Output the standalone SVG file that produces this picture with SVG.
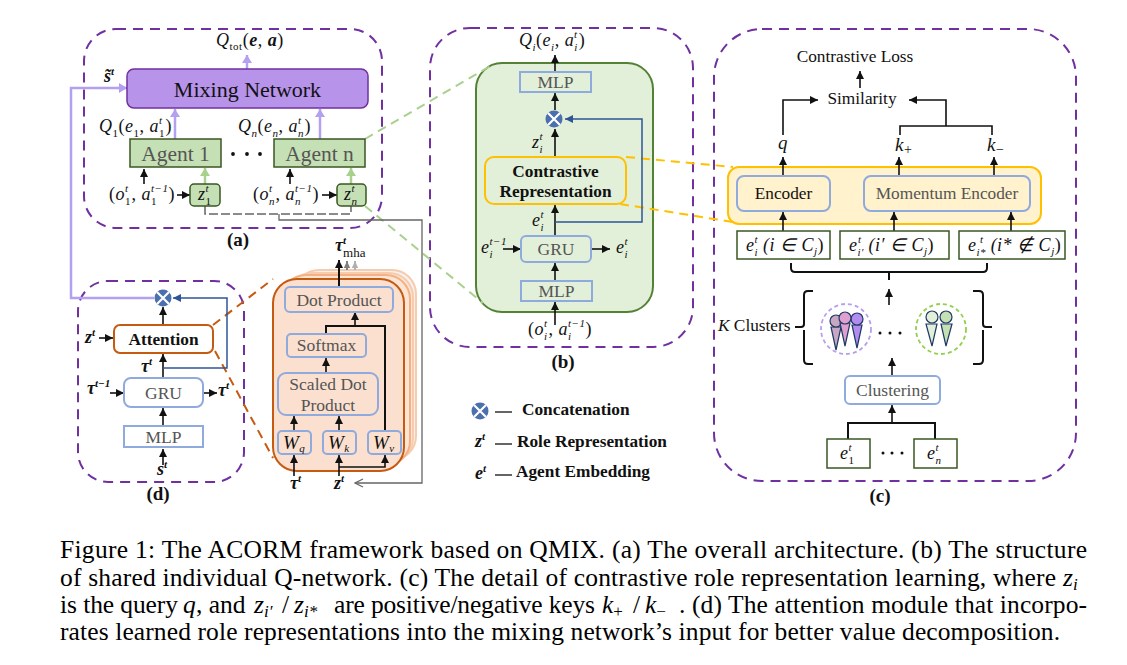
<svg xmlns="http://www.w3.org/2000/svg" xmlns:xlink="http://www.w3.org/1999/xlink" width="1127" height="665" viewBox="0 0 1127 665">
<style>
text{font-family:"Liberation Serif","Times New Roman",serif;fill:#111}
.panel{fill:none;stroke:#7030a0;stroke-width:2;stroke-dasharray:10 7}
.m{font-style:italic;font-size:18px;letter-spacing:.5px}
.mb{font-style:italic;font-weight:bold;font-size:18px}
.s{font-size:11px}
.n{font-style:normal}
.c{text-anchor:middle}
.lab{font-size:19px;font-weight:bold;text-anchor:middle}
.cap{font-size:25.500px;fill:#000}
.capi{font-size:25.500px;fill:#000;font-style:italic}
.capu{font-size:17px}
.box{fill:none;stroke:#8faadc;stroke-width:2}
.boxf{fill:#fff;stroke:#8faadc;stroke-width:2}
.t{font-size:17.500px;fill:#555;text-anchor:middle}
.t2{font-size:17.300px}
.tb{font-size:17.300px;font-weight:bold}
.g{fill:#c5e0b4;stroke:#385723;stroke-width:1.5}
.eb{fill:#fff;stroke:#385723;stroke-width:1.5}
.k{fill:none;stroke:#111;stroke-width:1.6}
.kb{fill:none;stroke:#111;stroke-width:2}
.a{fill:none;stroke:#111;stroke-width:1.6;marker-end:url(#ak)}
.ab{fill:none;stroke:#2f5597;stroke-width:1.5;marker-end:url(#abl)}
.ap{fill:none;stroke:#b4a0f0;stroke-width:2.5;marker-end:url(#apu)}
.ag{fill:none;stroke:#a9d18e;stroke-width:2.5;marker-end:url(#agr)}
.dg{fill:none;stroke:#a9d18e;stroke-width:2;stroke-dasharray:9 6}
.dy{fill:none;stroke:#ffc000;stroke-width:2;stroke-dasharray:9 6}
.do{fill:none;stroke:#c55a11;stroke-width:2;stroke-dasharray:9 6}
.head{stroke:#203864;stroke-width:1.2}
.dot{fill:#111}
</style>
<defs>
<marker id="ak" markerUnits="userSpaceOnUse" markerWidth="10" markerHeight="10" refX="9" refY="5" orient="auto"><path d="M1 1L9 5L1 9z" fill="#111"/></marker>
<marker id="abl" markerUnits="userSpaceOnUse" markerWidth="10" markerHeight="10" refX="9" refY="5" orient="auto"><path d="M1 1L9 5L1 9z" fill="#2f5597"/></marker>
<marker id="apu" markerUnits="userSpaceOnUse" markerWidth="10" markerHeight="12" refX="9" refY="6" orient="auto"><path d="M1 1L9 6L1 11z" fill="#b4a0f0"/></marker>
<marker id="agr" markerUnits="userSpaceOnUse" markerWidth="10" markerHeight="12" refX="9" refY="6" orient="auto"><path d="M1 1L9 6L1 11z" fill="#a9d18e"/></marker>
<marker id="agy" markerUnits="userSpaceOnUse" markerWidth="10" markerHeight="10" refX="9" refY="5" orient="auto"><path d="M1 1L9 5L1 9" fill="none" stroke="#666" stroke-width="1.3"/></marker>
<marker id="am" markerUnits="userSpaceOnUse" markerWidth="8" markerHeight="8" refX="7" refY="4" orient="auto"><path d="M0 .8L7 4L0 7.200z" fill="#808080"/></marker>
<marker id="al" markerUnits="userSpaceOnUse" markerWidth="8" markerHeight="8" refX="7" refY="4" orient="auto"><path d="M0 .8L7 4L0 7.200z" fill="#b0b0b0"/></marker>
<g id="concat"><circle r="8.5" fill="#4a70ad"/><path d="M-6-6L6 6M6-6L-6 6" stroke="#fff" stroke-width="2.2"/></g>
</defs>

<g id="containers">
<rect id="panel-a" class="panel" x="84" y="29" width="298" height="199" rx="32"/>
<rect id="panel-b" class="panel" x="430" y="28" width="263" height="319" rx="40"/>
<rect id="panel-c" class="panel" x="714" y="29" width="362" height="452" rx="48"/>
<rect id="panel-d" class="panel" x="78" y="281" width="166" height="201" rx="30"/>
<rect id="q-network" x="476" y="63" width="177" height="249" rx="26" fill="#e2efd9" stroke="#548235" stroke-width="2"/>
<rect id="encoder-group" x="728" y="167" width="313" height="57" rx="11" fill="#fff2cc" stroke="#ffc000" stroke-width="2"/>
<g id="attention-stack">
<rect x="295" y="270" width="121" height="190" rx="24" fill="#f2f2f2" stroke="#f8cbad" stroke-width="2"/>
<rect x="288" y="273" width="125" height="189" rx="24" fill="#fbe5d6" stroke="#f8cbad" stroke-width="2"/>
<rect x="282" y="275" width="128" height="190" rx="24" fill="#fbe5d6" stroke="#f4b183" stroke-width="2"/>
<rect x="273" y="279" width="131" height="192" rx="24" fill="#fbe0cf" stroke="#c55a11" stroke-width="2"/>
</g>
</g>

<g id="connectors">
<path class="dg" d="M365 139L492 65"/>
<path class="dg" d="M365 206L483 303"/>
<path class="dy" d="M626 157L733 167"/>
<path class="dy" d="M620 204L733 222"/>
<path class="do" d="M213 325L273 279"/>
<path class="do" d="M215 351L273 458"/>
<path class="ap" d="M247 69V55"/>
<path class="ap" d="M175 139V109"/>
<path class="ap" d="M320 139V109"/>
<path class="ag" d="M205 184V168"/>
<path class="ag" d="M351 184V168"/>
<path class="a" d="M144 184V169"/>
<path class="a" d="M290 184V169"/>
<path class="a" d="M177 195H190"/>
<path class="a" d="M322 195H337"/>
<path d="M205 206V214H351V206" fill="none" stroke="#666" stroke-width="1.5" stroke-dasharray="9 3"/>
<path d="M279 214V220H422V483H355" fill="none" stroke="#666" stroke-width="1.3" marker-end="url(#agy)"/>
<path class="ap" d="M154 298H71V88H127"/>
<path class="a" d="M163 325V307"/>
<path class="a" d="M99 338H113"/>
<path class="a" d="M163 378V354"/>
<path class="ab" d="M163 368H227V298H173"/>
<path class="a" d="M110 393H124"/>
<path class="a" d="M203 393H217"/>
<path class="a" d="M163 426V408"/>
<path class="a" d="M163 465V449"/>
<path class="a" d="M339 287V260" style="stroke-width:2"/>
<path d="M347 270V261" fill="none" stroke="#808080" stroke-width="2" marker-end="url(#am)"/>
<path d="M355 270V261" fill="none" stroke="#b0b0b0" stroke-width="2" marker-end="url(#al)"/>
<path class="kb" d="M326 334V326H385V431"/>
<path class="a" d="M355 326V312"/>
<path class="a" d="M326 373V358"/>
<path class="a" d="M294 431V416"/>
<path class="a" d="M339 431V416"/>
<path class="a" d="M294 476V455"/>
<path class="a" d="M339 476V455"/>
<path class="a" d="M339 467H385V455"/>
<path class="a" d="M555 325V302"/>
<path class="a" d="M555 281V263"/>
<path class="a" d="M555 236V205"/>
<path class="a" d="M555 157V129"/>
<path class="a" d="M555 110V93"/>
<path class="a" d="M555 72V55"/>
<path class="ab" d="M555 222H642V119H565"/>
<path class="a" d="M503 249H521"/>
<path class="a" d="M592 249H610"/>
<path class="a" d="M860 88V71"/>
<path class="a" d="M783 135V100H818"/>
<path class="k" d="M900 135V126H992V135"/>
<path class="a" d="M946 126V100H909"/>
<path class="a" d="M783 176V157"/>
<path class="a" d="M899 176V157"/>
<path class="a" d="M994 176V157"/>
<path class="a" d="M783 231V212"/>
<path class="a" d="M894 231V212"/>
<path class="a" d="M1011 231V212"/>
<path class="kb" d="M791 263V268Q791 272 795 272H983Q987 272 987 268V263M889 272V280"/>
<path class="a" d="M889 305V289"/>
<path class="a" d="M892 376V358"/>
<path class="a" d="M892 423V405"/>
<path class="kb" d="M848 439V423H935V439"/>
</g>

<g id="mixing-network">
<rect x="127" y="69" width="241" height="39" rx="7" fill="#b794ea" stroke="#7030a0" stroke-width="1.5"/>
<text x="247.500" y="97" class="c" style="font-size:22px">Mixing Network</text>
</g>
<g id="agent-1"><rect class="g" x="130" y="139" width="91" height="28"/><text x="175.500" y="161" class="c" style="font-size:21.500px;fill:#555">Agent 1</text></g>
<g id="agent-n"><rect class="g" x="274" y="139" width="91" height="28"/><text x="319.500" y="161" class="c" style="font-size:21.500px;fill:#555">Agent n</text></g>
<g id="agent-dots" class="dot"><circle cx="233" cy="154" r="1.900"/><circle cx="247" cy="154" r="1.900"/><circle cx="260" cy="154" r="1.900"/></g>
<g id="z1"><rect class="g" x="190" y="184" width="30" height="22" rx="4"/><text x="198" y="200" class="m">z<tspan class="s n" dy="5">1</tspan><tspan class="s" dx="-6" dy="-13">t</tspan></text></g>
<g id="zn"><rect class="g" x="337" y="184" width="29" height="22" rx="4"/><text x="344" y="200" class="m">z<tspan class="s" dy="5">n</tspan><tspan class="s" dx="-6" dy="-13">t</tspan></text></g>
<g id="labels-a">
<text x="216" y="46" class="m">Q<tspan class="s n" dy="4">tot</tspan><tspan class="n" dy="-4">(</tspan><tspan class="mb">e</tspan><tspan class="n">, </tspan><tspan class="mb">a</tspan><tspan class="n">)</tspan></text>
<text x="104" y="82" class="mb">s̃<tspan class="s" dy="-7">t</tspan></text>
<text x="99" y="132" class="m">Q<tspan class="s n" dy="5">1</tspan><tspan class="n" dy="-5">(</tspan>e<tspan class="s n" dy="5">1</tspan><tspan class="n" dy="-5">, </tspan>a<tspan class="s n" dy="5">1</tspan><tspan class="s" dx="-6" dy="-13">t</tspan><tspan class="n" dy="8" dx="3">)</tspan></text>
<text x="238" y="132" class="m">Q<tspan class="s" dy="5">n</tspan><tspan class="n" dy="-5">(</tspan>e<tspan class="s" dy="5">n</tspan><tspan class="n" dy="-5">, </tspan>a<tspan class="s" dy="5">n</tspan><tspan class="s" dx="-6" dy="-13">t</tspan><tspan class="n" dy="8" dx="3">)</tspan></text>
<text x="109" y="200" class="m"><tspan class="n">(</tspan>o<tspan class="s n" dy="5">1</tspan><tspan class="s" dx="-6" dy="-13">t</tspan><tspan class="n" dy="8" dx="3">, </tspan>a<tspan class="s n" dy="5">1</tspan><tspan class="s" dx="-6" dy="-13">t−1</tspan><tspan class="n" dy="8">)</tspan></text>
<text x="253" y="200" class="m"><tspan class="n">(</tspan>o<tspan class="s" dy="5">n</tspan><tspan class="s" dx="-6" dy="-13">t</tspan><tspan class="n" dy="8" dx="3">, </tspan>a<tspan class="s" dy="5">n</tspan><tspan class="s" dx="-6" dy="-13">t−1</tspan><tspan class="n" dy="8">)</tspan></text>
<text x="238" y="246" class="lab">(a)</text>
</g>

<g id="node-d"><use xlink:href="#concat" href="#concat" x="163" y="298"/></g>
<g id="attention"><rect x="114" y="325" width="99" height="28" rx="6" fill="#fff" stroke="#c55a11" stroke-width="2"/><text x="163.500" y="345" class="c tb">Attention</text></g>
<g id="gru-d"><rect class="boxf" x="124" y="378" width="79" height="29" rx="7"/><text x="163.500" y="399" class="t">GRU</text></g>
<g id="mlp-d"><rect class="boxf" x="124" y="426" width="79" height="21"/><text x="163.500" y="443" class="t">MLP</text></g>
<g id="labels-d">
<text x="85" y="343" class="mb">z<tspan class="s" dy="-7">t</tspan></text>
<text x="141" y="372" class="mb">τ<tspan class="s" dy="-7">t</tspan></text>
<text x="87" y="394" class="mb">τ<tspan class="s" dy="-7">t−1</tspan></text>
<text x="218" y="396" class="mb">τ<tspan class="s" dy="-7">t</tspan></text>
<text x="157" y="475" class="mb">s<tspan class="s" dy="-7">t</tspan></text>
<text x="158" y="500" class="lab">(d)</text>
</g>

<g id="dot-product"><rect class="box" x="285" y="287" width="108" height="25" rx="5"/><text x="339" y="306" class="t">Dot Product</text></g>
<g id="softmax"><rect class="box" x="287" y="334" width="79" height="23" rx="4"/><text x="326.500" y="351" class="t">Softmax</text></g>
<g id="scaled-dot"><rect class="box" x="278" y="373" width="100" height="42" rx="8"/><text x="328" y="390" class="t">Scaled Dot</text><text x="328" y="411" class="t">Product</text></g>
<g id="wq"><rect class="box" x="278" y="431" width="33" height="23" rx="4"/><text x="283" y="449" class="m" style="font-size:19px">W<tspan class="s" dy="3">q</tspan></text></g>
<g id="wk"><rect class="box" x="323" y="431" width="33" height="23" rx="4"/><text x="328" y="449" class="m" style="font-size:19px">W<tspan class="s" dy="3">k</tspan></text></g>
<g id="wv"><rect class="box" x="368" y="431" width="33" height="23" rx="4"/><text x="373" y="449" class="m" style="font-size:19px">W<tspan class="s" dy="3">v</tspan></text></g>
<g id="labels-stack">
<text x="335" y="251" class="mb">τ<tspan class="s" dy="-7">t</tspan><tspan class="n" dx="-3" dy="13" style="font-weight:normal;font-size:13px">mha</tspan></text>
<text x="290" y="489" class="mb">τ<tspan class="s" dy="-7">t</tspan></text>
<text x="334" y="489" class="mb">z<tspan class="s" dy="-7">t</tspan></text>
</g>

<g id="mlp-b-top"><rect class="box" x="520" y="72" width="71" height="20"/><text x="555.500" y="88" class="t">MLP</text></g>
<g id="node-b"><use xlink:href="#concat" href="#concat" x="554" y="119"/></g>
<g id="contrastive-rep"><rect x="485" y="157" width="141" height="47" rx="9" fill="none" stroke="#ffc000" stroke-width="2"/><text x="555.500" y="177" class="c tb">Contrastive</text><text x="555.500" y="197" class="c tb">Representation</text></g>
<g id="gru-b"><rect class="box" x="521" y="236" width="70" height="26" rx="5"/><text x="556" y="255" class="t">GRU</text></g>
<g id="mlp-b"><rect class="box" x="521" y="281" width="71" height="20"/><text x="556.500" y="297" class="t">MLP</text></g>
<g id="labels-b">
<text x="519" y="46" class="m">Q<tspan class="s" dy="5">i</tspan><tspan class="n" dy="-5">(</tspan>e<tspan class="s" dy="5">i</tspan><tspan class="n" dy="-5">, </tspan>a<tspan class="s" dy="5">i</tspan><tspan class="s" dx="-3.600" dy="-13">t</tspan><tspan class="n" dy="8" dx="1">)</tspan></text>
<text x="532" y="148" class="m">z<tspan class="s" dy="5">i</tspan><tspan class="s" dx="-3.600" dy="-13">t</tspan></text>
<text x="532" y="226" class="m">e<tspan class="s" dy="5">i</tspan><tspan class="s" dx="-3.600" dy="-13">t</tspan></text>
<text x="481" y="253" class="m">e<tspan class="s" dy="5">i</tspan><tspan class="s" dx="-3.600" dy="-13">t−1</tspan></text>
<text x="616" y="253" class="m">e<tspan class="s" dy="5">i</tspan><tspan class="s" dx="-3.600" dy="-13">t</tspan></text>
<text x="528" y="335" class="m"><tspan class="n">(</tspan>o<tspan class="s" dy="5">i</tspan><tspan class="s" dx="-3.600" dy="-13">t</tspan><tspan class="n" dy="8" dx="1">, </tspan>a<tspan class="s" dy="5">i</tspan><tspan class="s" dx="-3.600" dy="-13">t−1</tspan><tspan class="n" dy="8">)</tspan></text>
<text x="563" y="368" class="lab">(b)</text>
</g>

<g id="labels-c-top">
<text x="855" y="62" class="c t2">Contrastive Loss</text>
<text x="862" y="104" class="c t2">Similarity</text>
<text x="783" y="149" class="m c" style="font-size:19px">q</text>
<text x="895" y="151" class="m" style="font-size:19px">k<tspan class="n" dy="3" style="font-size:14px">+</tspan></text>
<text x="987" y="151" class="m" style="font-size:19px">k<tspan class="n" dy="3" style="font-size:14px">−</tspan></text>
</g>
<g id="encoder"><rect class="box" x="737" y="176" width="93" height="35" rx="7"/><text x="783.500" y="199" class="c t2">Encoder</text></g>
<g id="momentum-encoder"><rect class="box" x="864" y="176" width="166" height="35" rx="7"/><text x="947" y="199" class="t t2">Momentum Encoder</text></g>
<g id="e-i"><rect class="eb" x="737" y="231" width="93" height="28"/><text x="746" y="251" class="m">e<tspan class="s" dy="5">i</tspan><tspan class="s" dx="-3.600" dy="-13">t</tspan><tspan dy="8"> (i ∈ C</tspan><tspan class="s" dy="4">j</tspan><tspan class="n" dy="-4">)</tspan></text></g>
<g id="e-ip"><rect class="eb" x="840" y="231" width="109" height="28"/><text x="849" y="251" class="m">e<tspan class="s" dy="5">i′</tspan><tspan class="s" dx="-6" dy="-13">t</tspan><tspan dy="8" dx="2"> (i′ ∈ C</tspan><tspan class="s" dy="4">j</tspan><tspan class="n" dy="-4">)</tspan></text></g>
<g id="e-is"><rect class="eb" x="959" y="231" width="106" height="28"/><text x="968" y="251" class="m">e<tspan class="s" dy="5">i*</tspan><tspan class="s" dx="-6" dy="-13">t</tspan><tspan dy="8" dx="2"> (i* ∉ C</tspan><tspan class="s" dy="4">j</tspan><tspan class="n" dy="-4">)</tspan></text></g>
<g id="clusters">
<text x="718" y="331" class="t2"><tspan font-style="italic">K</tspan> Clusters</text>
<path class="kb" d="M795 327H801Q804 327 804 324V295Q804 291 808 291H813M804 330V360Q804 364 808 364H813"/>
<path class="kb" d="M973 291H979Q983 291 983 295V324Q983 327 986 327H992M983 330V360Q983 364 979 364H973"/>
<circle cx="846" cy="329" r="25" fill="none" stroke="#b79ff0" stroke-width="1.800" stroke-dasharray="4 3"/>
<circle cx="941" cy="329" r="25" fill="none" stroke="#92d050" stroke-width="1.800" stroke-dasharray="4 3"/>
<g class="head">
<path d="M831 327H841L836 350z" fill="#c7a7c4"/><circle cx="836" cy="321" r="6" fill="#c7a7c4"/>
<path d="M852 325H862L857 348z" fill="#b38cf0"/><circle cx="857" cy="319" r="6" fill="#b38cf0"/>
<path d="M840 323H850L845 346z" fill="#dda0d0"/><circle cx="845" cy="318" r="6" fill="#dda0d0"/>
<path d="M926 324H937L932 346z" fill="#e2efd9"/><circle cx="932" cy="317" r="6" fill="#e2efd9"/>
<path d="M941 324H952L946 346z" fill="#c5e0b4"/><circle cx="946" cy="317" r="6" fill="#c5e0b4"/>
</g>
<g class="dot"><circle cx="880" cy="333" r="1.500"/><circle cx="890" cy="333" r="1.500"/><circle cx="900" cy="333" r="1.500"/></g>
</g>
<g id="clustering"><rect class="box" x="845" y="376" width="95" height="28" rx="5"/><text x="892.500" y="396" class="t">Clustering</text></g>
<g id="e-1"><rect class="eb" x="827" y="439" width="43" height="29"/><text x="840" y="459" class="m">e<tspan class="s n" dy="5">1</tspan><tspan class="s" dx="-6" dy="-13">t</tspan></text></g>
<g id="e-n"><rect class="eb" x="914" y="439" width="43" height="29"/><text x="927" y="459" class="m">e<tspan class="s" dy="5">n</tspan><tspan class="s" dx="-6" dy="-13">t</tspan></text></g>
<g id="e-dots" class="dot"><circle cx="883" cy="453" r="1.500"/><circle cx="892" cy="453" r="1.500"/><circle cx="902" cy="453" r="1.500"/></g>
<text x="880" y="502" class="lab">(c)</text>

<g id="legend">
<use xlink:href="#concat" href="#concat" x="480" y="411"/>
<path d="M495 412H512M495 444H512M495 475H512" stroke="#333" stroke-width="1.500"/>
<text x="522" y="415" class="tb">Concatenation</text>
<text x="475" y="447" class="mb">z<tspan class="s" dy="-7">t</tspan></text>
<text x="517" y="447" class="tb">Role Representation</text>
<text x="475" y="479" class="mb">e<tspan class="s" dy="-7">t</tspan></text>
<text x="516" y="477" class="tb">Agent Embedding</text>
</g>

<g id="caption">
<text class="cap" x="60" y="558" textLength="1027" lengthAdjust="spacing">Figure 1: The ACORM framework based on QMIX. (a) The overall architecture. (b) The structure</text>
<text class="cap" x="60" y="586" textLength="996" lengthAdjust="spacing">of shared individual Q-network. (c) The detail of contrastive role representation learning, where</text>
<text class="capi" x="1063" y="586">z<tspan class="capu" dy="4">i</tspan></text>
<text class="cap" x="60" y="613" textLength="118" lengthAdjust="spacing">is the query</text>
<text class="capi" x="183" y="613">q</text>
<text class="cap" x="196" y="613">, and</text>
<text class="capi" x="254" y="613">z<tspan class="capu" dy="4">i′</tspan></text>
<text class="cap" x="282" y="613">/</text>
<text class="capi" x="294" y="613">z<tspan class="capu" dy="4">i*</tspan></text>
<text class="cap" x="334" y="613" textLength="261" lengthAdjust="spacing">are positive/negative keys</text>
<text class="capi" x="602" y="613">k<tspan class="capu n" dy="4">+</tspan></text>
<text class="cap" x="633" y="613">/</text>
<text class="capi" x="645" y="613">k<tspan class="capu n" dy="4">−</tspan></text>
<text class="cap" x="679" y="613" textLength="408" lengthAdjust="spacing">. (d) The attention module that incorpo-</text>
<text class="cap" x="60" y="640" textLength="1000" lengthAdjust="spacing">rates learned role representations into the mixing network’s input for better value decomposition.</text>
</g>
</svg>
